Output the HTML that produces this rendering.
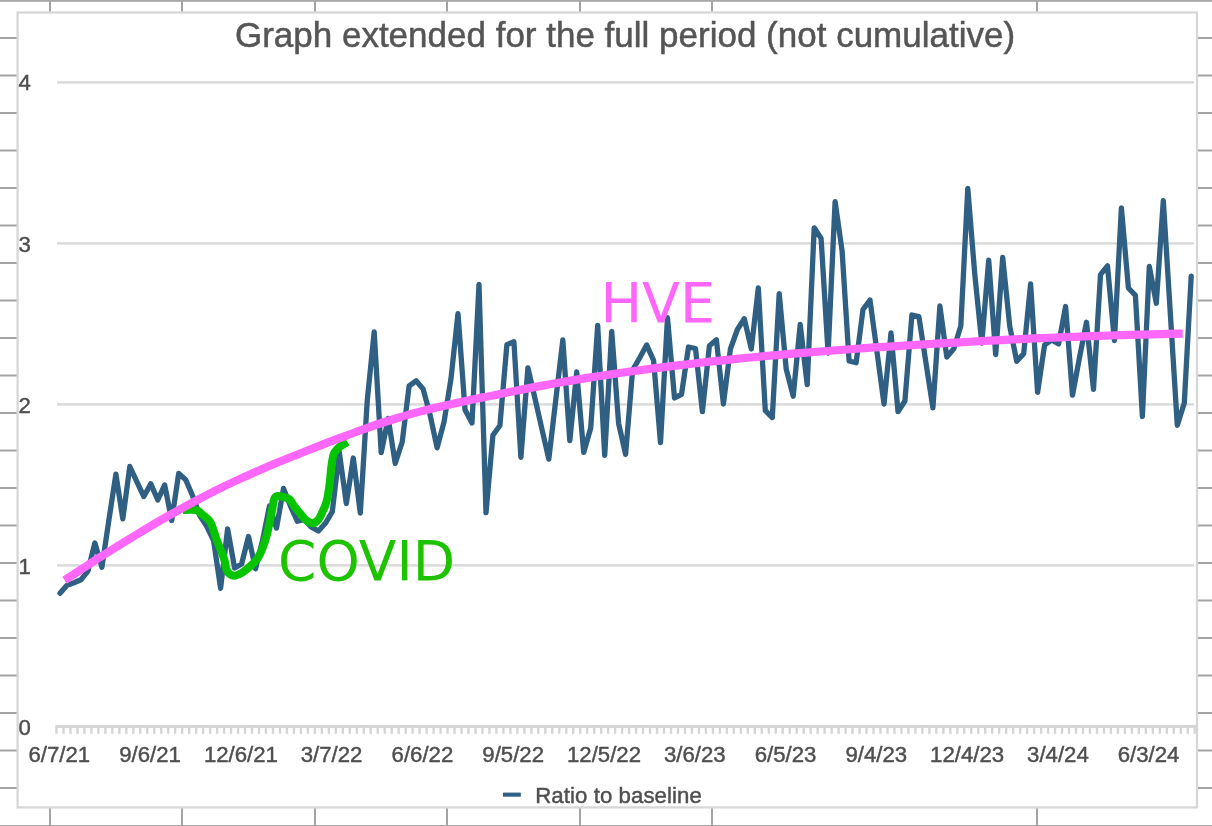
<!DOCTYPE html>
<html><head><meta charset="utf-8"><title>Graph extended for the full period (not cumulative)</title>
<style>
html,body{margin:0;padding:0;background:#fff;}
body{width:1212px;height:826px;overflow:hidden;position:relative;font-family:"Liberation Sans",sans-serif;}
svg{position:absolute;left:0;top:0;display:block;}
.ax text{font-family:"Liberation Sans",sans-serif;font-size:22.2px;fill:#4f4f4f;stroke:#4f4f4f;stroke-width:0.45px;}
</style></head><body>
<svg width="1212" height="826" viewBox="0 0 1212 826">
<rect x="0" y="0" width="1212" height="826" fill="#fff"/>
<g fill="#a3a3a3"><rect x="0" y="37.0" width="17" height="2"/><rect x="1198" y="37.0" width="14" height="2"/><rect x="0" y="74.5" width="17" height="2"/><rect x="1198" y="74.5" width="14" height="2"/><rect x="0" y="112.0" width="17" height="2"/><rect x="1198" y="112.0" width="14" height="2"/><rect x="0" y="149.5" width="17" height="2"/><rect x="1198" y="149.5" width="14" height="2"/><rect x="0" y="187.0" width="17" height="2"/><rect x="1198" y="187.0" width="14" height="2"/><rect x="0" y="224.5" width="17" height="2"/><rect x="1198" y="224.5" width="14" height="2"/><rect x="0" y="262.0" width="17" height="2"/><rect x="1198" y="262.0" width="14" height="2"/><rect x="0" y="299.5" width="17" height="2"/><rect x="1198" y="299.5" width="14" height="2"/><rect x="0" y="337.0" width="17" height="2"/><rect x="1198" y="337.0" width="14" height="2"/><rect x="0" y="374.5" width="17" height="2"/><rect x="1198" y="374.5" width="14" height="2"/><rect x="0" y="412.0" width="17" height="2"/><rect x="1198" y="412.0" width="14" height="2"/><rect x="0" y="449.5" width="17" height="2"/><rect x="1198" y="449.5" width="14" height="2"/><rect x="0" y="487.0" width="17" height="2"/><rect x="1198" y="487.0" width="14" height="2"/><rect x="0" y="524.5" width="17" height="2"/><rect x="1198" y="524.5" width="14" height="2"/><rect x="0" y="562.0" width="17" height="2"/><rect x="1198" y="562.0" width="14" height="2"/><rect x="0" y="599.5" width="17" height="2"/><rect x="1198" y="599.5" width="14" height="2"/><rect x="0" y="637.0" width="17" height="2"/><rect x="1198" y="637.0" width="14" height="2"/><rect x="0" y="674.5" width="17" height="2"/><rect x="1198" y="674.5" width="14" height="2"/><rect x="0" y="712.0" width="17" height="2"/><rect x="1198" y="712.0" width="14" height="2"/><rect x="0" y="749.5" width="17" height="2"/><rect x="1198" y="749.5" width="14" height="2"/><rect x="0" y="787.0" width="17" height="2"/><rect x="1198" y="787.0" width="14" height="2"/><rect x="49" y="0" width="2" height="12"/><rect x="49" y="808" width="2" height="18"/><rect x="181" y="0" width="2" height="12"/><rect x="181" y="808" width="2" height="18"/><rect x="314" y="0" width="2" height="12"/><rect x="314" y="808" width="2" height="18"/><rect x="446" y="0" width="2" height="12"/><rect x="446" y="808" width="2" height="18"/><rect x="579" y="0" width="2" height="12"/><rect x="579" y="808" width="2" height="18"/><rect x="711" y="0" width="2" height="12"/><rect x="711" y="808" width="2" height="18"/><rect x="1036" y="0" width="2" height="12"/><rect x="1036" y="808" width="2" height="18"/></g>
<rect x="0" y="0" width="1212" height="1.8" fill="#a8a8a8"/>
<rect x="0" y="825" width="1212" height="1" fill="#a9a9a9"/>
<rect x="17.6" y="12.5" width="1179.4" height="794.9" fill="#fff" stroke="#d7d7d7" stroke-width="2.3"/>
<g fill="#d9d9d9"><rect x="57" y="81.2" width="1137" height="2.4"/><rect x="57" y="242.2" width="1137" height="2.4"/><rect x="57" y="403.2" width="1137" height="2.4"/><rect x="57" y="564.2" width="1137" height="2.4"/></g>
<g fill="#d5d5d5"><rect x="55.3" y="724.9" width="1141" height="3"/><rect x="55.30" y="727" width="2.4" height="6.8"/><rect x="62.28" y="727" width="2.4" height="6.8"/><rect x="69.27" y="727" width="2.4" height="6.8"/><rect x="76.25" y="727" width="2.4" height="6.8"/><rect x="83.23" y="727" width="2.4" height="6.8"/><rect x="90.21" y="727" width="2.4" height="6.8"/><rect x="97.20" y="727" width="2.4" height="6.8"/><rect x="104.18" y="727" width="2.4" height="6.8"/><rect x="111.16" y="727" width="2.4" height="6.8"/><rect x="118.15" y="727" width="2.4" height="6.8"/><rect x="125.13" y="727" width="2.4" height="6.8"/><rect x="132.11" y="727" width="2.4" height="6.8"/><rect x="139.10" y="727" width="2.4" height="6.8"/><rect x="146.08" y="727" width="2.4" height="6.8"/><rect x="153.06" y="727" width="2.4" height="6.8"/><rect x="160.05" y="727" width="2.4" height="6.8"/><rect x="167.03" y="727" width="2.4" height="6.8"/><rect x="174.01" y="727" width="2.4" height="6.8"/><rect x="180.99" y="727" width="2.4" height="6.8"/><rect x="187.98" y="727" width="2.4" height="6.8"/><rect x="194.96" y="727" width="2.4" height="6.8"/><rect x="201.94" y="727" width="2.4" height="6.8"/><rect x="208.93" y="727" width="2.4" height="6.8"/><rect x="215.91" y="727" width="2.4" height="6.8"/><rect x="222.89" y="727" width="2.4" height="6.8"/><rect x="229.88" y="727" width="2.4" height="6.8"/><rect x="236.86" y="727" width="2.4" height="6.8"/><rect x="243.84" y="727" width="2.4" height="6.8"/><rect x="250.82" y="727" width="2.4" height="6.8"/><rect x="257.81" y="727" width="2.4" height="6.8"/><rect x="264.79" y="727" width="2.4" height="6.8"/><rect x="271.77" y="727" width="2.4" height="6.8"/><rect x="278.76" y="727" width="2.4" height="6.8"/><rect x="285.74" y="727" width="2.4" height="6.8"/><rect x="292.72" y="727" width="2.4" height="6.8"/><rect x="299.70" y="727" width="2.4" height="6.8"/><rect x="306.69" y="727" width="2.4" height="6.8"/><rect x="313.67" y="727" width="2.4" height="6.8"/><rect x="320.65" y="727" width="2.4" height="6.8"/><rect x="327.64" y="727" width="2.4" height="6.8"/><rect x="334.62" y="727" width="2.4" height="6.8"/><rect x="341.60" y="727" width="2.4" height="6.8"/><rect x="348.59" y="727" width="2.4" height="6.8"/><rect x="355.57" y="727" width="2.4" height="6.8"/><rect x="362.55" y="727" width="2.4" height="6.8"/><rect x="369.53" y="727" width="2.4" height="6.8"/><rect x="376.52" y="727" width="2.4" height="6.8"/><rect x="383.50" y="727" width="2.4" height="6.8"/><rect x="390.48" y="727" width="2.4" height="6.8"/><rect x="397.47" y="727" width="2.4" height="6.8"/><rect x="404.45" y="727" width="2.4" height="6.8"/><rect x="411.43" y="727" width="2.4" height="6.8"/><rect x="418.42" y="727" width="2.4" height="6.8"/><rect x="425.40" y="727" width="2.4" height="6.8"/><rect x="432.38" y="727" width="2.4" height="6.8"/><rect x="439.37" y="727" width="2.4" height="6.8"/><rect x="446.35" y="727" width="2.4" height="6.8"/><rect x="453.33" y="727" width="2.4" height="6.8"/><rect x="460.31" y="727" width="2.4" height="6.8"/><rect x="467.30" y="727" width="2.4" height="6.8"/><rect x="474.28" y="727" width="2.4" height="6.8"/><rect x="481.26" y="727" width="2.4" height="6.8"/><rect x="488.25" y="727" width="2.4" height="6.8"/><rect x="495.23" y="727" width="2.4" height="6.8"/><rect x="502.21" y="727" width="2.4" height="6.8"/><rect x="509.19" y="727" width="2.4" height="6.8"/><rect x="516.18" y="727" width="2.4" height="6.8"/><rect x="523.16" y="727" width="2.4" height="6.8"/><rect x="530.14" y="727" width="2.4" height="6.8"/><rect x="537.13" y="727" width="2.4" height="6.8"/><rect x="544.11" y="727" width="2.4" height="6.8"/><rect x="551.09" y="727" width="2.4" height="6.8"/><rect x="558.08" y="727" width="2.4" height="6.8"/><rect x="565.06" y="727" width="2.4" height="6.8"/><rect x="572.04" y="727" width="2.4" height="6.8"/><rect x="579.02" y="727" width="2.4" height="6.8"/><rect x="586.01" y="727" width="2.4" height="6.8"/><rect x="592.99" y="727" width="2.4" height="6.8"/><rect x="599.97" y="727" width="2.4" height="6.8"/><rect x="606.96" y="727" width="2.4" height="6.8"/><rect x="613.94" y="727" width="2.4" height="6.8"/><rect x="620.92" y="727" width="2.4" height="6.8"/><rect x="627.91" y="727" width="2.4" height="6.8"/><rect x="634.89" y="727" width="2.4" height="6.8"/><rect x="641.87" y="727" width="2.4" height="6.8"/><rect x="648.85" y="727" width="2.4" height="6.8"/><rect x="655.84" y="727" width="2.4" height="6.8"/><rect x="662.82" y="727" width="2.4" height="6.8"/><rect x="669.80" y="727" width="2.4" height="6.8"/><rect x="676.79" y="727" width="2.4" height="6.8"/><rect x="683.77" y="727" width="2.4" height="6.8"/><rect x="690.75" y="727" width="2.4" height="6.8"/><rect x="697.74" y="727" width="2.4" height="6.8"/><rect x="704.72" y="727" width="2.4" height="6.8"/><rect x="711.70" y="727" width="2.4" height="6.8"/><rect x="718.68" y="727" width="2.4" height="6.8"/><rect x="725.67" y="727" width="2.4" height="6.8"/><rect x="732.65" y="727" width="2.4" height="6.8"/><rect x="739.63" y="727" width="2.4" height="6.8"/><rect x="746.62" y="727" width="2.4" height="6.8"/><rect x="753.60" y="727" width="2.4" height="6.8"/><rect x="760.58" y="727" width="2.4" height="6.8"/><rect x="767.57" y="727" width="2.4" height="6.8"/><rect x="774.55" y="727" width="2.4" height="6.8"/><rect x="781.53" y="727" width="2.4" height="6.8"/><rect x="788.51" y="727" width="2.4" height="6.8"/><rect x="795.50" y="727" width="2.4" height="6.8"/><rect x="802.48" y="727" width="2.4" height="6.8"/><rect x="809.46" y="727" width="2.4" height="6.8"/><rect x="816.45" y="727" width="2.4" height="6.8"/><rect x="823.43" y="727" width="2.4" height="6.8"/><rect x="830.41" y="727" width="2.4" height="6.8"/><rect x="837.40" y="727" width="2.4" height="6.8"/><rect x="844.38" y="727" width="2.4" height="6.8"/><rect x="851.36" y="727" width="2.4" height="6.8"/><rect x="858.34" y="727" width="2.4" height="6.8"/><rect x="865.33" y="727" width="2.4" height="6.8"/><rect x="872.31" y="727" width="2.4" height="6.8"/><rect x="879.29" y="727" width="2.4" height="6.8"/><rect x="886.28" y="727" width="2.4" height="6.8"/><rect x="893.26" y="727" width="2.4" height="6.8"/><rect x="900.24" y="727" width="2.4" height="6.8"/><rect x="907.23" y="727" width="2.4" height="6.8"/><rect x="914.21" y="727" width="2.4" height="6.8"/><rect x="921.19" y="727" width="2.4" height="6.8"/><rect x="928.17" y="727" width="2.4" height="6.8"/><rect x="935.16" y="727" width="2.4" height="6.8"/><rect x="942.14" y="727" width="2.4" height="6.8"/><rect x="949.12" y="727" width="2.4" height="6.8"/><rect x="956.11" y="727" width="2.4" height="6.8"/><rect x="963.09" y="727" width="2.4" height="6.8"/><rect x="970.07" y="727" width="2.4" height="6.8"/><rect x="977.06" y="727" width="2.4" height="6.8"/><rect x="984.04" y="727" width="2.4" height="6.8"/><rect x="991.02" y="727" width="2.4" height="6.8"/><rect x="998.00" y="727" width="2.4" height="6.8"/><rect x="1004.99" y="727" width="2.4" height="6.8"/><rect x="1011.97" y="727" width="2.4" height="6.8"/><rect x="1018.95" y="727" width="2.4" height="6.8"/><rect x="1025.94" y="727" width="2.4" height="6.8"/><rect x="1032.92" y="727" width="2.4" height="6.8"/><rect x="1039.90" y="727" width="2.4" height="6.8"/><rect x="1046.89" y="727" width="2.4" height="6.8"/><rect x="1053.87" y="727" width="2.4" height="6.8"/><rect x="1060.85" y="727" width="2.4" height="6.8"/><rect x="1067.83" y="727" width="2.4" height="6.8"/><rect x="1074.82" y="727" width="2.4" height="6.8"/><rect x="1081.80" y="727" width="2.4" height="6.8"/><rect x="1088.78" y="727" width="2.4" height="6.8"/><rect x="1095.77" y="727" width="2.4" height="6.8"/><rect x="1102.75" y="727" width="2.4" height="6.8"/><rect x="1109.73" y="727" width="2.4" height="6.8"/><rect x="1116.72" y="727" width="2.4" height="6.8"/><rect x="1123.70" y="727" width="2.4" height="6.8"/><rect x="1130.68" y="727" width="2.4" height="6.8"/><rect x="1137.66" y="727" width="2.4" height="6.8"/><rect x="1144.65" y="727" width="2.4" height="6.8"/><rect x="1151.63" y="727" width="2.4" height="6.8"/><rect x="1158.61" y="727" width="2.4" height="6.8"/><rect x="1165.60" y="727" width="2.4" height="6.8"/><rect x="1172.58" y="727" width="2.4" height="6.8"/><rect x="1179.56" y="727" width="2.4" height="6.8"/><rect x="1186.55" y="727" width="2.4" height="6.8"/><rect x="1193.53" y="727" width="2.4" height="6.8"/></g>
<g class="ax"><text x="18.6" y="90.4">4</text><text x="18.6" y="251.5">3</text><text x="18.6" y="412.6">2</text><text x="18.6" y="573.6">1</text><text x="18.6" y="734.6">0</text><text x="59.3" y="761.8" text-anchor="middle">6/7/21</text><text x="150.1" y="761.8" text-anchor="middle">9/6/21</text><text x="240.9" y="761.8" text-anchor="middle">12/6/21</text><text x="331.6" y="761.8" text-anchor="middle">3/7/22</text><text x="422.4" y="761.8" text-anchor="middle">6/6/22</text><text x="513.2" y="761.8" text-anchor="middle">9/5/22</text><text x="604.0" y="761.8" text-anchor="middle">12/5/22</text><text x="694.8" y="761.8" text-anchor="middle">3/6/23</text><text x="785.5" y="761.8" text-anchor="middle">6/5/23</text><text x="876.3" y="761.8" text-anchor="middle">9/4/23</text><text x="967.1" y="761.8" text-anchor="middle">12/4/23</text><text x="1057.9" y="761.8" text-anchor="middle">3/4/24</text><text x="1148.6" y="761.8" text-anchor="middle">6/3/24</text></g>
<text x="625" y="46.9" text-anchor="middle" font-family="Liberation Sans, sans-serif" font-size="35" fill="#555" stroke="#555" stroke-width="0.5">Graph extended for the full period (not cumulative)</text>
<polyline points="60.0,593.3 67.0,585.2 74.0,582.7 80.9,579.8 87.9,571.0 94.9,543.0 101.9,567.2 108.9,520.0 115.9,474.2 122.8,518.8 129.8,466.5 136.8,481.7 143.8,496.5 150.8,483.9 157.8,500.0 164.7,484.9 171.7,520.5 178.7,473.4 185.7,479.8 192.7,496.0 199.7,515.5 206.6,526.0 213.6,540.7 220.6,588.3 227.6,528.8 234.6,568.0 241.6,564.0 248.5,536.5 255.5,568.8 262.5,540.7 269.5,505.9 276.5,528.1 283.5,488.4 290.4,505.9 297.4,521.3 304.4,519.4 311.4,527.2 318.4,531.0 325.4,523.3 332.3,511.7 339.3,452.2 346.3,503.5 353.3,458.0 360.3,513.0 367.3,400.0 374.2,332.0 381.2,452.6 388.2,418.4 395.2,463.3 402.2,442.0 409.1,386.0 416.1,380.8 423.1,388.9 430.1,415.0 437.1,447.8 444.1,421.6 451.0,378.5 458.0,313.6 465.0,409.7 472.0,423.0 479.0,284.5 486.0,512.7 492.9,435.2 499.9,425.5 506.9,344.6 513.9,341.7 520.9,457.3 527.9,367.8 534.8,397.7 541.8,428.5 548.8,459.1 555.8,399.5 562.8,340.0 569.8,440.7 576.7,372.0 583.7,452.4 590.7,428.1 597.7,325.5 604.7,455.3 611.7,331.3 618.6,423.3 625.6,454.3 632.6,370.0 639.6,358.0 646.6,344.9 653.6,360.4 660.5,442.7 667.5,317.7 674.5,398.0 681.5,394.3 688.5,347.0 695.5,348.5 702.4,411.7 709.4,345.8 716.4,339.8 723.4,404.0 730.4,349.0 737.4,329.5 744.3,318.7 751.3,349.0 758.3,288.0 765.3,410.7 772.3,417.5 779.2,293.6 786.2,369.0 793.2,396.2 800.2,324.5 807.2,384.6 814.2,227.8 821.1,238.4 828.1,353.0 835.1,201.6 842.1,251.0 849.1,361.0 856.1,362.8 863.0,309.5 870.0,300.0 877.0,352.0 884.0,404.0 891.0,333.0 898.0,411.7 904.9,401.0 911.9,315.0 918.9,316.7 925.9,362.3 932.9,407.8 939.9,306.0 946.8,357.0 953.8,348.8 960.8,326.0 967.8,188.4 974.8,274.6 981.8,343.0 988.7,260.1 995.7,354.5 1002.7,257.5 1009.7,326.0 1016.7,361.3 1023.7,353.6 1030.6,284.0 1037.6,392.3 1044.6,344.9 1051.6,340.0 1058.6,343.9 1065.6,306.5 1072.5,395.2 1079.5,357.5 1086.5,322.3 1093.5,389.4 1100.5,274.6 1107.5,265.9 1114.4,340.5 1121.4,207.8 1128.4,288.0 1135.4,295.3 1142.4,416.5 1149.3,266.5 1156.3,303.2 1163.3,200.6 1170.3,313.0 1177.3,425.3 1184.3,403.0 1191.2,276.1" fill="none" stroke="#2f5f82" stroke-width="5.3" stroke-linejoin="round" stroke-linecap="round"/>
<path d="M182.8,510.0 C185.0,510.0 193.0,509.4 196.2,510.2 C199.4,510.9 199.8,512.5 202.2,514.5 C204.6,516.5 208.0,518.2 210.4,522.3 C212.8,526.4 214.2,533.2 216.5,539.3 C218.8,545.3 222.3,553.6 224.0,558.6 C225.7,563.6 225.4,566.9 226.4,569.5 C227.4,572.1 228.6,573.4 230.1,574.4 C231.6,575.4 233.5,575.9 235.5,575.6 C237.5,575.3 239.9,574.0 242.2,572.6 C244.5,571.2 246.8,569.4 249.4,567.1 C252.0,564.8 255.3,561.8 257.5,558.6 C259.7,555.4 261.1,551.7 262.7,547.7 C264.3,543.7 265.9,538.4 267.0,534.4 C268.1,530.4 268.5,527.7 269.4,523.5 C270.3,519.3 271.5,513.0 272.3,509.0 C273.1,504.9 273.3,501.3 274.1,499.2 C274.9,497.1 275.5,496.6 277.0,496.2 C278.5,495.8 281.2,496.4 283.3,497.0 C285.4,497.6 287.9,497.9 289.7,499.5 C291.5,501.1 292.4,504.0 294.2,506.3 C296.0,508.6 298.3,511.2 300.3,513.5 C302.3,515.8 304.2,518.6 306.3,520.2 C308.4,521.8 310.6,523.3 312.6,523.2 C314.6,523.1 316.6,521.8 318.4,519.6 C320.2,517.4 322.0,512.7 323.3,509.9 C324.6,507.1 325.4,505.8 326.3,502.6 C327.2,499.4 328.1,494.5 328.7,490.5 C329.3,486.5 329.8,482.0 330.2,478.4 C330.6,474.8 330.8,471.7 331.1,468.7 C331.5,465.7 331.8,462.9 332.3,460.3 C332.8,457.7 333.0,455.2 334.2,453.0 C335.4,450.8 337.4,448.8 339.6,446.9 C341.8,445.0 346.2,442.7 347.5,441.9" fill="none" stroke="#06c400" stroke-width="8" stroke-linejoin="round" stroke-linecap="butt"/>
<path d="M64.6,580.2 C67.2,578.5 74.1,574.0 80.0,570.2 C85.9,566.4 93.3,561.5 100.0,557.3 C106.7,553.0 113.3,548.9 120.0,544.7 C126.7,540.6 133.3,536.4 140.0,532.4 C146.7,528.4 153.3,524.5 160.0,520.6 C166.7,516.8 173.3,513.0 180.0,509.3 C186.7,505.6 193.3,502.1 200.0,498.6 C206.7,495.1 213.3,491.7 220.0,488.4 C226.7,485.1 233.3,482.0 240.0,478.9 C246.7,475.8 253.3,472.8 260.0,469.9 C266.7,467.0 273.3,464.2 280.0,461.5 C286.7,458.8 293.3,456.1 300.0,453.5 C306.7,450.9 313.3,448.2 320.0,445.6 C326.7,443.0 333.3,440.4 340.0,437.9 C346.7,435.4 353.3,432.9 360.0,430.5 C366.7,428.1 373.3,425.7 380.0,423.5 C386.7,421.3 393.3,419.2 400.0,417.2 C406.7,415.2 413.3,413.4 420.0,411.6 C426.7,409.9 433.3,408.3 440.0,406.7 C446.7,405.1 453.3,403.6 460.0,402.2 C466.7,400.8 473.3,399.4 480.0,398.0 C486.7,396.6 493.3,395.2 500.0,393.9 C506.7,392.5 513.3,391.2 520.0,389.9 C526.7,388.6 533.3,387.3 540.0,386.1 C546.7,384.9 553.3,383.7 560.0,382.5 C566.7,381.3 573.3,380.2 580.0,379.1 C586.7,378.0 593.3,377.0 600.0,376.0 C606.7,375.0 613.3,374.0 620.0,373.0 C626.7,372.0 633.3,371.1 640.0,370.2 C646.7,369.3 653.3,368.5 660.0,367.6 C666.7,366.8 673.3,365.9 680.0,365.1 C686.7,364.3 693.3,363.6 700.0,362.8 C706.7,362.1 713.3,361.3 720.0,360.6 C726.7,359.9 733.3,359.2 740.0,358.5 C746.7,357.8 753.3,357.2 760.0,356.6 C766.7,356.0 773.3,355.4 780.0,354.8 C786.7,354.2 793.3,353.7 800.0,353.1 C806.7,352.6 813.3,352.0 820.0,351.5 C826.7,351.0 833.3,350.5 840.0,350.0 C846.7,349.5 853.3,349.0 860.0,348.5 C866.7,348.0 873.3,347.6 880.0,347.2 C886.7,346.8 893.3,346.3 900.0,345.9 C906.7,345.5 913.3,345.0 920.0,344.6 C926.7,344.2 933.3,343.8 940.0,343.4 C946.7,343.0 953.3,342.7 960.0,342.3 C966.7,341.9 973.3,341.6 980.0,341.2 C986.7,340.8 993.3,340.5 1000.0,340.1 C1006.7,339.8 1013.3,339.4 1020.0,339.1 C1026.7,338.8 1033.3,338.5 1040.0,338.2 C1046.7,337.9 1053.3,337.6 1060.0,337.3 C1066.7,337.0 1073.3,336.9 1080.0,336.6 C1086.7,336.4 1093.3,336.0 1100.0,335.8 C1106.7,335.6 1113.3,335.4 1120.0,335.2 C1126.7,335.0 1133.3,334.8 1140.0,334.6 C1146.7,334.4 1152.9,334.2 1160.0,334.1 C1167.1,334.0 1178.9,333.8 1182.7,333.7" fill="none" stroke="#ff66fa" stroke-width="8.2" stroke-linejoin="round" stroke-linecap="butt"/>
<text transform="translate(600.4,322.4) scale(1.021,1)" font-family="DejaVu Sans, sans-serif" font-size="54.3" fill="#ff66fa">HVE</text>
<text transform="translate(278,579.9) scale(1.014,1)" font-family="DejaVu Sans, sans-serif" font-size="54.3" fill="#1ec300">COVID</text>
<rect x="503" y="792.6" width="17.8" height="4.1" fill="#2f5f82"/>
<text x="535.2" y="802.6" font-family="Liberation Sans, sans-serif" font-size="22.2" textLength="166.6" lengthAdjust="spacing" fill="#4f4f4f" stroke="#4f4f4f" stroke-width="0.45">Ratio to baseline</text>
</svg>
</body></html>
